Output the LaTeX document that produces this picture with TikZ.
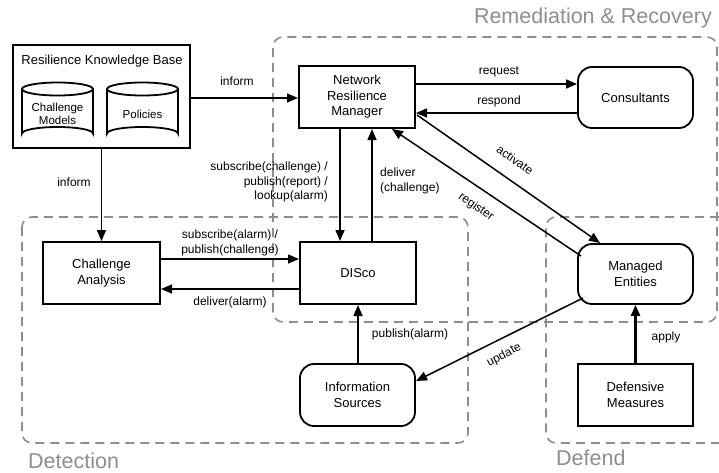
\documentclass[tikz,border=0pt]{standalone}
\usepackage{fontspec}
\setmainfont{Liberation Sans}
\usetikzlibrary{arrows.meta}
\definecolor{zonegray}{HTML}{8E8E8E}
\begin{document}
\begin{tikzpicture}[x=1pt,y=-1pt,
  box/.style={draw, line width=2pt, align=center, font=\fontsize{13}{15.5}\selectfont, inner sep=0pt},
  rbox/.style={box, rounded corners=14pt, line width=1.8pt},
  conn/.style={line width=1.5pt, -{Triangle[length=11pt,width=9pt]}},
  lbl/.style={font=\fontsize{12}{14.5}\selectfont, inner sep=1pt},
  zone/.style={draw=zonegray, line width=1.6pt, dash pattern=on 9pt off 6pt, rounded corners=10pt},
  zonelbl/.style={text=zonegray, font=\fontsize{21.5}{24}\selectfont, inner sep=0pt},
  cyl/.style={line width=1.8pt}
]
\useasboundingbox (0,0) rectangle (719,472);

% ---- dashed zones ----
\draw[zone] (273,322) -- (273,37) -- (717,37) -- (717,322) -- cycle;
\draw[zone] (22,217) rectangle (468,443);
\draw[zone] (719,217) -- (546,217) -- (546,443) -- (719,443);
\node[zonelbl, anchor=east] (zrr) at (712,18) {Remediation \& Recovery};
\node[zonelbl, anchor=west] (zdet) at (28,461) {Detection};
\node[zonelbl, anchor=west] (zdef) at (556,458) {Defend};

% ---- knowledge base with its two stores ----
\node[box, minimum width=177pt, minimum height=103pt] (rkb) at (101.5,96.5) {};
\node[font=\fontsize{13}{15.5}\selectfont] (rkbt) at (102,61) {Resilience Knowledge Base};
\foreach \cx/\nm in {57.5/cm, 142.5/pol}{
  \draw[cyl] (\cx-35.5,89) -- (\cx-35.5,133.5) arc[start angle=180, end angle=360, x radius=35.5, y radius=6.5]
             -- (\cx+35.5,89);
  \draw[cyl] (\cx,89) ellipse[x radius=35.5, y radius=6.5];
  \coordinate (\nm) at (\cx,114);
}
\node[align=center, font=\fontsize{11.5}{13.5}\selectfont] (cmt) at (cm) {Challenge\\Models};
\node[font=\fontsize{11.5}{13.5}\selectfont] (polt) at (pol) {Policies};

% ---- main components ----
\node[box, minimum width=116pt, minimum height=62pt] (nrm) at (357,97) {Network\\Resilience\\Manager};
\node[rbox, minimum width=115pt, minimum height=61pt] (cons) at (635.5,97.5) {Consultants};
\node[box, minimum width=116pt, minimum height=62pt] (disco) at (358,273) {DISco};
\node[box, minimum width=117pt, minimum height=62pt] (ca) at (101.5,273) {Challenge\\Analysis};
\node[rbox, minimum width=115pt, minimum height=60pt] (me) at (635.5,274) {Managed\\Entities};
\node[rbox, minimum width=115pt, minimum height=62pt] (is) at (357.5,395) {Information\\Sources};
\node[box, minimum width=115pt, minimum height=62pt] (dm) at (635.5,395) {Defensive\\Measures};

% ---- connectors ----
\draw[conn] (rkb.east |- 0,98) -- (nrm.west |- 0,98);
\node[lbl] (l1) at (237,81) {inform};
\draw[conn] (rkb.south) -- (ca.north);
\node[lbl] (l2) at (74,182) {inform};

\draw[conn] (nrm.south -| 340,0) -- (disco.north -| 340,0);
\node[lbl, align=right, anchor=east] (l3) at (329,182) {subscribe(challenge) /\\publish(report) /\\lookup(alarm)};
\draw[conn] (disco.north -| 372,0) -- (nrm.south -| 372,0);
\node[lbl, align=left, anchor=west] (l4) at (379,181) {deliver\\(challenge)};

\draw[conn] (nrm.east |- 0,84) -- (cons.west |- 0,84);
\node[lbl] (l5) at (499,72) {request};
\draw[conn] (cons.west |- 0,113) -- (nrm.east |- 0,113);
\node[lbl] (l6) at (499,101) {respond};

\coordinate (actS) at (417,115);
\coordinate (actE) at (600,243);
\draw[conn] (actS) -- (actE);
\node[lbl, rotate=-35] (l7) at (515,160) {activate};
\coordinate (regS) at (581,256);
\coordinate (regE) at (392,129);
\draw[conn] (regS) -- (regE);
\node[lbl, rotate=-35] (l8) at (476,207) {register};

\draw[conn] (ca.east |- 0,259) -- (disco.west |- 0,259);
\node[lbl, align=center] (l9) at (230,243) {subscribe(alarm) /\\publish(challenge)};
\draw[conn] (disco.west |- 0,289) -- (ca.east |- 0,289);
\node[lbl] (l10) at (230,302) {deliver(alarm)};

\draw[conn] (is.north -| 358,0) -- (disco.south -| 358,0);
\node[lbl] (l11) at (410,334) {publish(alarm)};

\coordinate (updS) at (583,298);
\coordinate (updE) at (416,381);
\draw[conn] (updS) -- (updE);
\node[lbl, rotate=27] (l12) at (504,355) {update};

\draw[conn, line width=2.4pt] (dm.north) -- (me.south);
\node[lbl] (l13) at (666,337) {apply};
\end{tikzpicture}
\end{document}
